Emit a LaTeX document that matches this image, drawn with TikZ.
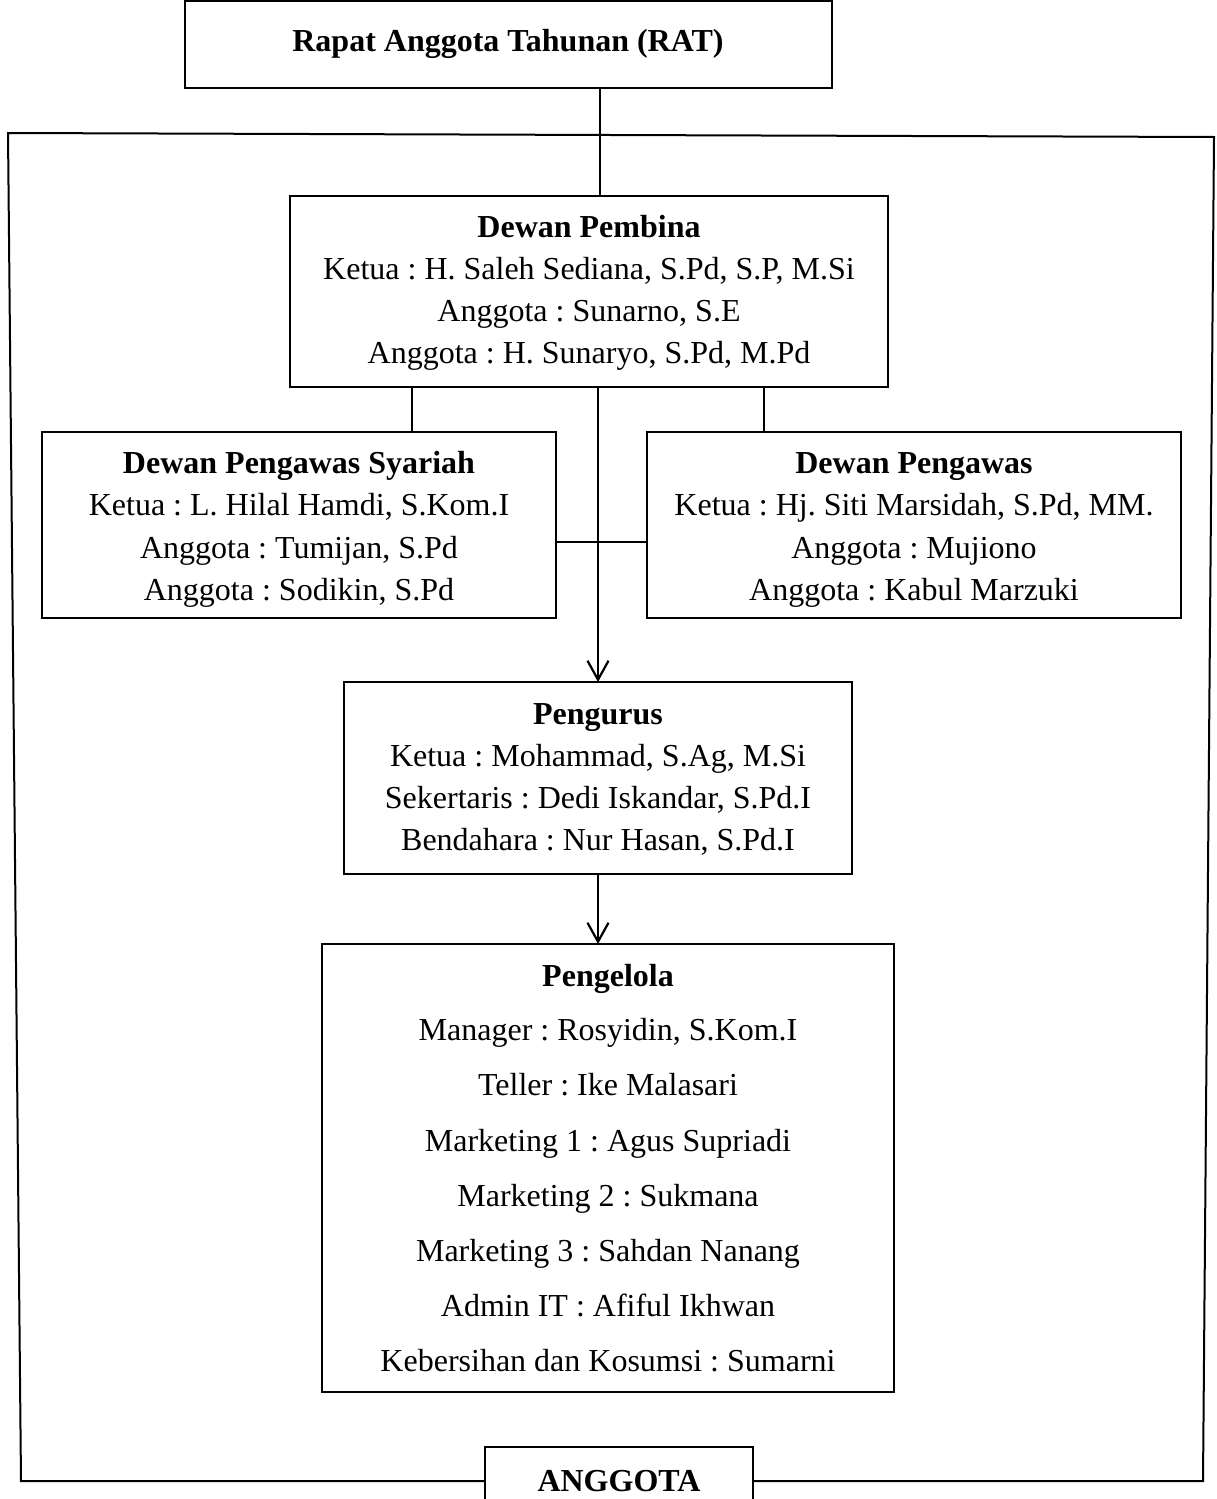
\documentclass[tikz,border=0pt]{standalone}
\usepackage{fontspec}
\setmainfont{Liberation Serif}
\frenchspacing
\usetikzlibrary{arrows.meta,fit}
\begin{document}
\begin{tikzpicture}[x=0.5pt,y=-0.5pt,
 box/.style={draw,line width=0.75pt,inner sep=0pt,outer sep=0pt},
 ttl/.style={font=\fontsize{16}{19}\selectfont\bfseries,anchor=base,inner sep=0pt},
 txt/.style={font=\fontsize{16}{19}\selectfont,anchor=base,inner sep=0pt},
 conn/.style={line width=0.8pt},
 frame/.style={line width=1pt},
 arr/.style={line width=1pt,-{Straight Barb[length=9.5pt,width=10.5pt,line width=1.1pt]}}]
\useasboundingbox (0,0) rectangle (1216,1499);
\clip (0,0) rectangle (1216,1499);
% boxes
\node[box,fit={(185,1) (832,88)}] (rat) {};
\node[box,fit={(290,196) (888,387)}] (pb) {};
\node[box,fit={(42,432) (556,618)}] (dps) {};
\node[box,fit={(647,432) (1181,618)}] (dp) {};
\node[box,fit={(344,682) (852,874)}] (pg) {};
\node[box,fit={(322,944) (894,1392)}] (pl) {};
\node[box,fit={(485,1447) (753,1530)}] (ang) {};
% texts
\node[ttl] (t0) at (508,51) {Rapat Anggota Tahunan (RAT)};
\node[ttl] (t1) at (589,237) {Dewan Pembina};
\node[txt] (t2) at (589,279) {Ketua : H. Saleh Sediana, S.Pd, S.P, M.Si};
\node[txt] (t3) at (589,321) {Anggota : Sunarno, S.E};
\node[txt] (t4) at (589,363) {Anggota : H. Sunaryo, S.Pd, M.Pd};
\node[ttl] (t5) at (299,473) {Dewan Pengawas Syariah};
\node[txt] (t6) at (299,515) {Ketua : L. Hilal Hamdi, S.Kom.I};
\node[txt] (t7) at (299,558) {Anggota : Tumijan, S.Pd};
\node[txt] (t8) at (299,600) {Anggota : Sodikin, S.Pd};
\node[ttl] (t9) at (914,473) {Dewan Pengawas};
\node[txt] (t10) at (914,515) {Ketua : Hj. Siti Marsidah, S.Pd, MM.};
\node[txt] (t11) at (914,558) {Anggota : Mujiono};
\node[txt] (t12) at (914,600) {Anggota : Kabul Marzuki};
\node[ttl] (t13) at (598,724) {Pengurus};
\node[txt] (t14) at (598,766) {Ketua : Mohammad, S.Ag, M.Si};
\node[txt] (t15) at (598,808) {Sekertaris : Dedi Iskandar, S.Pd.I};
\node[txt] (t16) at (598,850) {Bendahara : Nur Hasan, S.Pd.I};
\node[ttl] (t17) at (608,986) {Pengelola};
\node[txt] (t18) at (608,1040) {Manager : Rosyidin, S.Kom.I};
\node[txt] (t19) at (608,1095) {Teller : Ike Malasari};
\node[txt] (t20) at (608,1151) {Marketing 1 : Agus Supriadi};
\node[txt] (t21) at (608,1206) {Marketing 2 : Sukmana};
\node[txt] (t22) at (608,1261) {Marketing 3 : Sahdan Nanang};
\node[txt] (t23) at (608,1316) {Admin IT : Afiful Ikhwan};
\node[txt] (t24) at (608,1371) {Kebersihan dan Kosumsi : Sumarni};
\node[ttl] (t25) at (619,1491) {ANGGOTA};
% helper coordinates
\coordinate (vx) at (600,0);
\coordinate (lx) at (412,0);
\coordinate (rx) at (764,0);
\coordinate (ax) at (598,0);
\coordinate (hy) at (0,542);
\coordinate (tl) at (8,133);
\coordinate (tr) at (1214,137);
\coordinate (bl) at (21,1481);
\coordinate (br) at (1203,1481);
% connectors
\draw[conn] (vx |- rat.south) -- (vx |- pb.north);
\draw[conn] (lx |- pb.south) -- (lx |- dps.north);
\draw[conn] (rx |- pb.south) -- (rx |- dp.north);
\draw[conn] (dps.east |- hy) -- (dp.west |- hy);
\draw[arr] (ax |- pb.south) -- (ax |- pg.north);
\draw[arr] (ax |- pg.south) -- (ax |- pl.north);
\draw[frame] (ang.west |- bl) -- (bl) -- (tl) -- (tr) -- (br) -- (ang.east |- br);
\end{tikzpicture}
\end{document}
